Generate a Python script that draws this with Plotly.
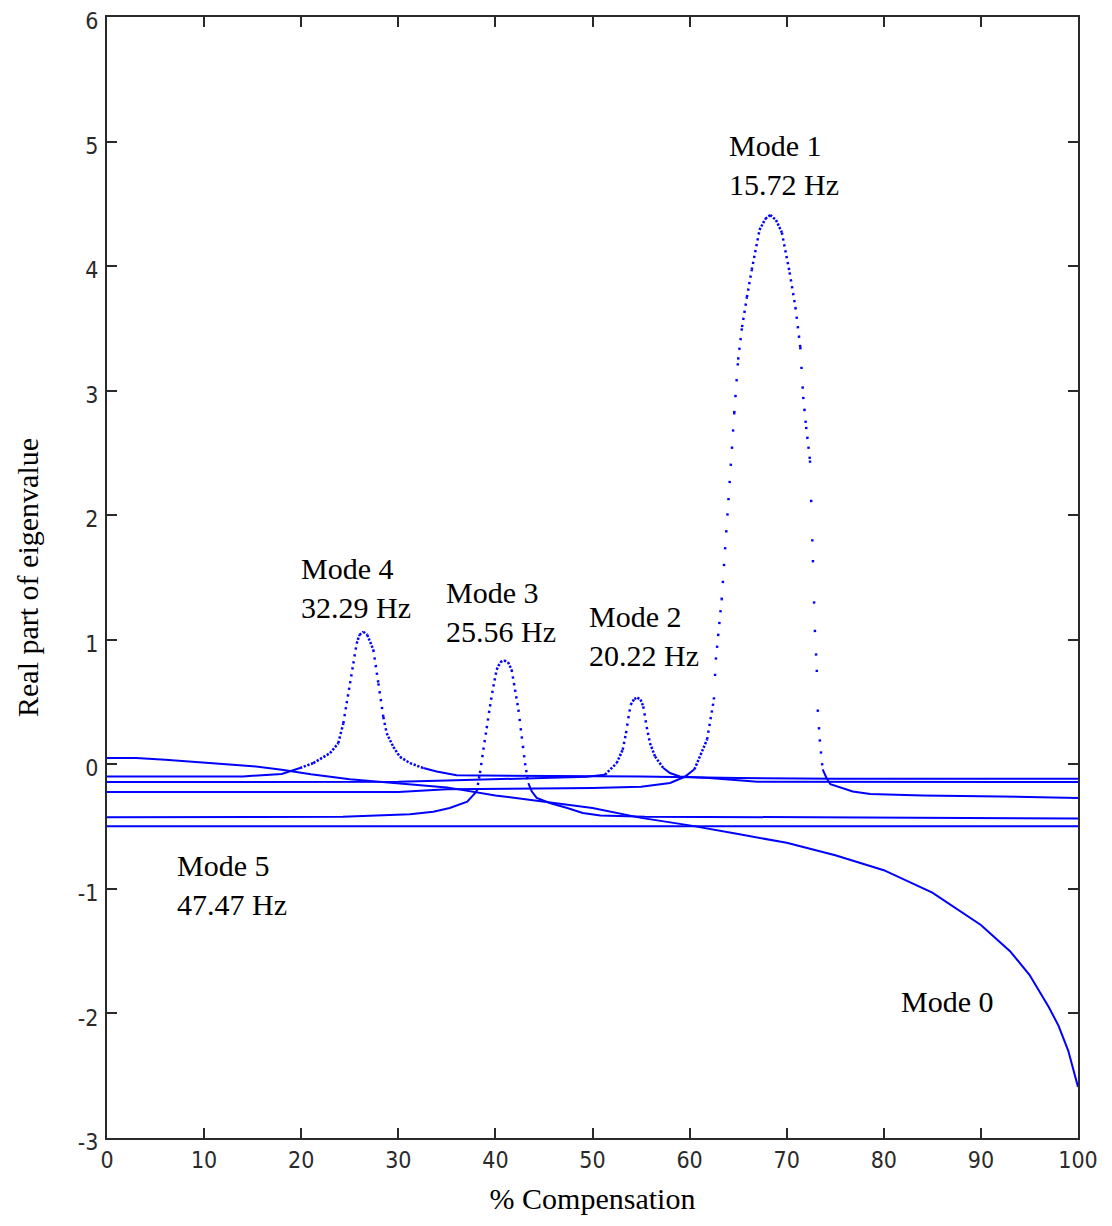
import math
import plotly.graph_objects as go

# ---------------- data ----------------
x_ticks = [0, 10, 20, 30, 40, 50, 60, 70, 80, 90, 100]
y_ticks = [-3, -2, -1, 0, 1, 2, 3, 4, 5, 6]

mode0_x = [0, 3, 6, 9, 12, 15, 18, 21, 25, 30, 35, 40, 45, 50, 55, 60, 65, 70, 75, 80, 85, 90, 93, 95, 97, 98, 99, 100]
mode0_y = [0.05, 0.05, 0.037, 0.018, 0.005, -0.015, -0.043, -0.08, -0.12, -0.15, -0.185, -0.25, -0.3, -0.35,
           -0.43, -0.49, -0.56, -0.63, -0.73, -0.85, -1.03, -1.29, -1.5, -1.69, -1.95, -2.1, -2.3, -2.59]

mode1_x = [0, 30, 35, 50, 55, 58, 59.5, 60.5, 61.8, 62.5, 62.7, 63.3, 64.0, 64.6, 65.0, 65.4, 65.9, 66.4, 67.2,
           67.8, 68.3, 68.9, 69.5, 70.3, 70.9, 71.4, 71.7, 72.0, 72.4, 72.7, 72.9, 73.1, 73.2, 73.4, 73.7, 74.1,
           74.5, 75.5, 76.8, 78.6, 84, 92, 100]
mode1_y = [-0.222, -0.222, -0.2, -0.19, -0.18, -0.15, -0.1, -0.04, 0.2, 0.52, 0.84, 1.32, 2.12, 2.82, 3.25, 3.51,
           3.75, 3.97, 4.29, 4.38, 4.41, 4.37, 4.27, 3.95, 3.67, 3.35, 2.95, 2.71, 2.44, 1.64, 1.08, 0.76, 0.44,
           0.2, -0.04, -0.11, -0.16, -0.185, -0.218, -0.238, -0.25, -0.258, -0.27]

mode2_x = [0, 25, 30, 35, 40, 45, 49.4, 51.29, 52.49, 53.11, 53.45, 53.69, 53.93, 54.3, 54.62, 54.95, 55.23,
           55.58, 55.92, 56.44, 57.29, 57.98, 59, 62, 67, 100]
mode2_y = [-0.142, -0.142, -0.14, -0.13, -0.12, -0.112, -0.1, -0.083, 0.01, 0.117, 0.25, 0.37, 0.478, 0.525,
           0.535, 0.52, 0.465, 0.30, 0.17, 0.063, -0.03, -0.07, -0.097, -0.11, -0.14, -0.142]

mode3_x = [0, 24.3, 31.2, 33.6, 35.3, 37.1, 38.07, 38.41, 38.76, 39.1, 39.44, 39.79, 40.13, 40.5, 40.89, 41.3,
           41.67, 42.02, 42.37, 42.71, 43.05, 43.39, 43.74, 44.25, 45.6, 47.4, 49, 50.8, 55.4, 100]
mode3_y = [-0.425, -0.42, -0.4, -0.38, -0.35, -0.3, -0.217, -0.07, 0.117, 0.29, 0.465, 0.625, 0.76, 0.82, 0.834,
           0.82, 0.76, 0.6, 0.44, 0.224, 0.01, -0.15, -0.217, -0.27, -0.31, -0.35, -0.39, -0.41, -0.42, -0.434]

mode4_x = [0, 14, 18, 19.88, 21.25, 22.97, 23.82, 24.34, 24.68, 25.03, 25.37, 25.71, 26.0, 26.4, 26.8, 27.43,
           27.95, 28.46, 28.8, 29.49, 30.17, 31.2, 32.58, 33.95, 36, 45, 55, 65, 75, 100]
mode4_y = [-0.097, -0.097, -0.078, -0.03, 0.01, 0.09, 0.17, 0.33, 0.49, 0.65, 0.81, 0.97, 1.04, 1.065, 1.04,
           0.92, 0.65, 0.38, 0.25, 0.14, 0.06, 0.01, -0.03, -0.057, -0.088, -0.09, -0.098, -0.11, -0.115, -0.116]

mode5_x = [0, 50, 100]
mode5_y = [-0.497, -0.497, -0.497]

labels = [
    ("Mode 1<br>15.72 Hz", 63.85, 4.81),
    ("Mode 4<br>32.29 Hz", 19.77, 1.417),
    ("Mode 3<br>25.56 Hz", 34.7, 1.225),
    ("Mode 2<br>20.22 Hz", 49.43, 1.032),
    ("Mode 5<br>47.47 Hz", 7.0, -0.97),
    ("Mode 0", 81.57, -1.905),
]

# ---------------- layout geometry ----------------
# the page body adds an 8px offset; the figure is sized so the plot box lands where the reference has it
W, H = 1104, 1218
ML, MR, MT, MB = 99, 34, 9, 88
XR = [0, 100]
YR = [-3, 6]
XS = (W - ML - MR) / (XR[1] - XR[0])
YS = (H - MT - MB) / (YR[1] - YR[0])

BLUE = "#0000ff"
fig = go.Figure()


def is_dotted(y0, y1, s):
    top = max(y0, y1)
    return (top > 0.0 and s > 0.3) or (s > 2.5 and top > -0.35)


def add_mode(xs, ys):
    seg_x, seg_y = [xs[0]], [ys[0]]
    for i in range(len(xs) - 1):
        dxp = (xs[i + 1] - xs[i]) * XS
        dyp = (ys[i + 1] - ys[i]) * YS
        s = abs(dyp / dxp) if dxp else 99.0
        if not is_dotted(ys[i], ys[i + 1], s):
            seg_x.append(xs[i + 1]); seg_y.append(ys[i + 1])
        else:
            if len(seg_x) > 1:
                fig.add_trace(go.Scatter(x=seg_x, y=seg_y, mode="lines",
                                         line=dict(color=BLUE, width=2), hoverinfo="skip"))
            gap = max(1.6, 1.15 * math.sqrt(1 + s * s) - 2.3)
            fig.add_trace(go.Scatter(x=[xs[i], xs[i + 1]], y=[ys[i], ys[i + 1]], mode="lines",
                                     line=dict(color=BLUE, width=2.5, dash=f"2.3px,{gap:.1f}px"),
                                     hoverinfo="skip"))
            seg_x, seg_y = [xs[i + 1]], [ys[i + 1]]
    if len(seg_x) > 1:
        fig.add_trace(go.Scatter(x=seg_x, y=seg_y, mode="lines",
                                 line=dict(color=BLUE, width=2), hoverinfo="skip"))


for mx, my in [(mode5_x, mode5_y), (mode3_x, mode3_y), (mode1_x, mode1_y), (mode2_x, mode2_y),
               (mode4_x, mode4_y), (mode0_x, mode0_y)]:
    add_mode(mx, my)

for text, ax, ay in labels:
    fig.add_annotation(x=ax, y=ay, text=text, showarrow=False, xanchor="left", yanchor="middle",
                       align="left", font=dict(family="Liberation Serif, Times New Roman, serif",
                                               size=30, color="#000000"))

tick_font = dict(family="Liberation Sans Narrow, DejaVu Sans Condensed, Liberation Sans, sans-serif",
                 size=23, color="#2a2a2a")
axis_common = dict(showgrid=False, zeroline=False, showline=True, linecolor="#2a2a2a", linewidth=2,
                   ticks="inside", ticklen=10, tickwidth=1.5, tickcolor="#2a2a2a", mirror="ticks",
                   tickfont=tick_font, ticklabeloverflow="allow")

fig.update_layout(
    width=W, height=H,
    margin=dict(l=ML, r=MR, t=MT, b=MB, autoexpand=False),
    paper_bgcolor="white", plot_bgcolor="white",
    showlegend=False,
    xaxis=dict(range=XR, tickvals=x_ticks, ticktext=[str(v) for v in x_ticks], ticklabelstandoff=0,
               title=dict(text="% Compensation", standoff=16,
                          font=dict(family="Liberation Serif, Times New Roman, serif", size=30,
                                    color="#000000")),
               **axis_common),
    yaxis=dict(range=YR, tickvals=y_ticks, ticktext=[str(v) for v in y_ticks], ticklabelstandoff=2,
               ticklabelshift=4,
               title=dict(text="Real part of eigenvalue", standoff=30,
                          font=dict(family="Liberation Serif, Times New Roman, serif", size=30,
                                    color="#000000")),
               **axis_common),
)

fig.write_html("out.html")
